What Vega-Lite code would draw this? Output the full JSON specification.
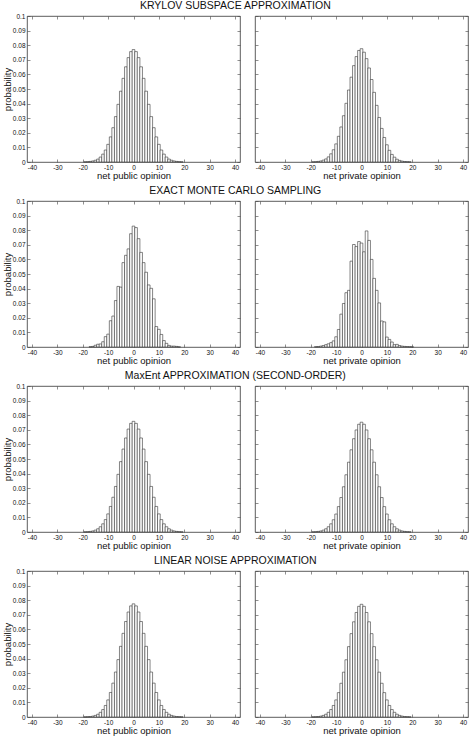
{
"$schema":"https://vega.github.io/schema/vega-lite/v6.json",
"background":"white",
"padding":{"left":1,"top":1,"right":0,"bottom":0},
"spacing":5,
"datasets":{
"kp":[{"x":-19,"p":0.0001},{"x":-18,"p":0.0002},{"x":-17,"p":0.0004},{"x":-16,"p":0.0007},{"x":-15,"p":0.0012},{"x":-14,"p":0.002},{"x":-13,"p":0.0034},{"x":-12,"p":0.0054},{"x":-11,"p":0.0082},{"x":-10,"p":0.0121},{"x":-9,"p":0.0172},{"x":-8,"p":0.0235},{"x":-7,"p":0.0311},{"x":-6,"p":0.0395},{"x":-5,"p":0.0485},{"x":-4,"p":0.0573},{"x":-3,"p":0.0652},{"x":-2,"p":0.0715},{"x":-1,"p":0.0756},{"x":0,"p":0.077},{"x":1,"p":0.0756},{"x":2,"p":0.0715},{"x":3,"p":0.0652},{"x":4,"p":0.0573},{"x":5,"p":0.0485},{"x":6,"p":0.0395},{"x":7,"p":0.0311},{"x":8,"p":0.0235},{"x":9,"p":0.0172},{"x":10,"p":0.0121},{"x":11,"p":0.0082},{"x":12,"p":0.0054},{"x":13,"p":0.0034},{"x":14,"p":0.002},{"x":15,"p":0.0012},{"x":16,"p":0.0007},{"x":17,"p":0.0004},{"x":18,"p":0.0002},{"x":19,"p":0.0001}],
"kr":[{"x":-19,"p":0.0001},{"x":-18,"p":0.0002},{"x":-17,"p":0.0004},{"x":-16,"p":0.0007},{"x":-15,"p":0.0013},{"x":-14,"p":0.0021},{"x":-13,"p":0.0035},{"x":-12,"p":0.0056},{"x":-11,"p":0.0084},{"x":-10,"p":0.0124},{"x":-9,"p":0.0176},{"x":-8,"p":0.024},{"x":-7,"p":0.0317},{"x":-6,"p":0.0402},{"x":-5,"p":0.0493},{"x":-4,"p":0.0581},{"x":-3,"p":0.066},{"x":-2,"p":0.0722},{"x":-1,"p":0.0764},{"x":0,"p":0.0776},{"x":1,"p":0.0752},{"x":2,"p":0.0708},{"x":3,"p":0.0644},{"x":4,"p":0.0565},{"x":5,"p":0.0477},{"x":6,"p":0.0388},{"x":7,"p":0.0305},{"x":8,"p":0.023},{"x":9,"p":0.0168},{"x":10,"p":0.0118},{"x":11,"p":0.008},{"x":12,"p":0.0052},{"x":13,"p":0.0033},{"x":14,"p":0.0019},{"x":15,"p":0.0011},{"x":16,"p":0.0006},{"x":17,"p":0.0003},{"x":18,"p":0.0002},{"x":19,"p":0.0001}],
"mp":[{"x":-17,"p":0.0002},{"x":-16,"p":0.0004},{"x":-15,"p":0.0012},{"x":-14,"p":0.0019},{"x":-13,"p":0.0021},{"x":-12,"p":0.0036},{"x":-11,"p":0.0071},{"x":-10,"p":0.0088},{"x":-9,"p":0.018},{"x":-8,"p":0.0212},{"x":-7,"p":0.0318},{"x":-6,"p":0.0415},{"x":-5,"p":0.041},{"x":-4,"p":0.0578},{"x":-3,"p":0.0628},{"x":-2,"p":0.0672},{"x":-1,"p":0.0776},{"x":0,"p":0.0828},{"x":1,"p":0.0818},{"x":2,"p":0.0742},{"x":3,"p":0.0648},{"x":4,"p":0.0578},{"x":5,"p":0.0512},{"x":6,"p":0.0425},{"x":7,"p":0.0402},{"x":8,"p":0.033},{"x":9,"p":0.014},{"x":10,"p":0.0121},{"x":11,"p":0.0086},{"x":12,"p":0.0044},{"x":13,"p":0.0025},{"x":14,"p":0.0011},{"x":15,"p":0.0006},{"x":16,"p":0.0006},{"x":17,"p":0.0004},{"x":18,"p":0.0001}],
"mr":[{"x":-18,"p":0.0002},{"x":-17,"p":0.0003},{"x":-16,"p":0.0006},{"x":-15,"p":0.001},{"x":-14,"p":0.0016},{"x":-13,"p":0.0022},{"x":-12,"p":0.003},{"x":-11,"p":0.0042},{"x":-10,"p":0.007},{"x":-9,"p":0.012},{"x":-8,"p":0.0225},{"x":-7,"p":0.0298},{"x":-6,"p":0.0372},{"x":-5,"p":0.0388},{"x":-4,"p":0.0588},{"x":-3,"p":0.0702},{"x":-2,"p":0.0688},{"x":-1,"p":0.0722},{"x":0,"p":0.0712},{"x":1,"p":0.0652},{"x":2,"p":0.0795},{"x":3,"p":0.073},{"x":4,"p":0.06},{"x":5,"p":0.047},{"x":6,"p":0.0388},{"x":7,"p":0.0302},{"x":8,"p":0.0178},{"x":9,"p":0.0172},{"x":10,"p":0.0068},{"x":11,"p":0.0052},{"x":12,"p":0.0034},{"x":13,"p":0.0016},{"x":14,"p":0.0018},{"x":15,"p":0.001},{"x":16,"p":0.0006},{"x":17,"p":0.0004},{"x":18,"p":0.0003},{"x":19,"p":0.0002},{"x":20,"p":0.0001}],
"ep":[{"x":-19,"p":0.0001},{"x":-18,"p":0.0002},{"x":-17,"p":0.0004},{"x":-16,"p":0.0007},{"x":-15,"p":0.0013},{"x":-14,"p":0.0022},{"x":-13,"p":0.0036},{"x":-12,"p":0.0056},{"x":-11,"p":0.0085},{"x":-10,"p":0.0124},{"x":-9,"p":0.0175},{"x":-8,"p":0.0238},{"x":-7,"p":0.0312},{"x":-6,"p":0.0395},{"x":-5,"p":0.0482},{"x":-4,"p":0.0568},{"x":-3,"p":0.0644},{"x":-2,"p":0.0705},{"x":-1,"p":0.0744},{"x":0,"p":0.0758},{"x":1,"p":0.0744},{"x":2,"p":0.0705},{"x":3,"p":0.0644},{"x":4,"p":0.0568},{"x":5,"p":0.0482},{"x":6,"p":0.0395},{"x":7,"p":0.0312},{"x":8,"p":0.0238},{"x":9,"p":0.0175},{"x":10,"p":0.0124},{"x":11,"p":0.0085},{"x":12,"p":0.0056},{"x":13,"p":0.0036},{"x":14,"p":0.0022},{"x":15,"p":0.0013},{"x":16,"p":0.0007},{"x":17,"p":0.0004},{"x":18,"p":0.0002},{"x":19,"p":0.0001}],
"er":[{"x":-19,"p":0.0001},{"x":-18,"p":0.0002},{"x":-17,"p":0.0004},{"x":-16,"p":0.0007},{"x":-15,"p":0.0013},{"x":-14,"p":0.0022},{"x":-13,"p":0.0036},{"x":-12,"p":0.0056},{"x":-11,"p":0.0084},{"x":-10,"p":0.0123},{"x":-9,"p":0.0174},{"x":-8,"p":0.0236},{"x":-7,"p":0.031},{"x":-6,"p":0.0392},{"x":-5,"p":0.0478},{"x":-4,"p":0.0563},{"x":-3,"p":0.0639},{"x":-2,"p":0.0699},{"x":-1,"p":0.0738},{"x":0,"p":0.0752},{"x":1,"p":0.0738},{"x":2,"p":0.0699},{"x":3,"p":0.0639},{"x":4,"p":0.0563},{"x":5,"p":0.0478},{"x":6,"p":0.0392},{"x":7,"p":0.031},{"x":8,"p":0.0236},{"x":9,"p":0.0174},{"x":10,"p":0.0123},{"x":11,"p":0.0084},{"x":12,"p":0.0056},{"x":13,"p":0.0036},{"x":14,"p":0.0022},{"x":15,"p":0.0013},{"x":16,"p":0.0007},{"x":17,"p":0.0004},{"x":18,"p":0.0002},{"x":19,"p":0.0001}],
"lp":[{"x":-19,"p":0.0001},{"x":-18,"p":0.0002},{"x":-17,"p":0.0003},{"x":-16,"p":0.0006},{"x":-15,"p":0.0011},{"x":-14,"p":0.0019},{"x":-13,"p":0.0032},{"x":-12,"p":0.0051},{"x":-11,"p":0.0079},{"x":-10,"p":0.0117},{"x":-9,"p":0.0168},{"x":-8,"p":0.0232},{"x":-7,"p":0.0308},{"x":-6,"p":0.0393},{"x":-5,"p":0.0484},{"x":-4,"p":0.0573},{"x":-3,"p":0.0654},{"x":-2,"p":0.0719},{"x":-1,"p":0.0761},{"x":0,"p":0.0775},{"x":1,"p":0.0761},{"x":2,"p":0.0719},{"x":3,"p":0.0654},{"x":4,"p":0.0573},{"x":5,"p":0.0484},{"x":6,"p":0.0393},{"x":7,"p":0.0308},{"x":8,"p":0.0232},{"x":9,"p":0.0168},{"x":10,"p":0.0117},{"x":11,"p":0.0079},{"x":12,"p":0.0051},{"x":13,"p":0.0032},{"x":14,"p":0.0019},{"x":15,"p":0.0011},{"x":16,"p":0.0006},{"x":17,"p":0.0003},{"x":18,"p":0.0002},{"x":19,"p":0.0001}],
"lr":[{"x":-19,"p":0.0001},{"x":-18,"p":0.0002},{"x":-17,"p":0.0003},{"x":-16,"p":0.0006},{"x":-15,"p":0.0011},{"x":-14,"p":0.0019},{"x":-13,"p":0.0032},{"x":-12,"p":0.0051},{"x":-11,"p":0.0079},{"x":-10,"p":0.0117},{"x":-9,"p":0.0167},{"x":-8,"p":0.0231},{"x":-7,"p":0.0307},{"x":-6,"p":0.0392},{"x":-5,"p":0.0482},{"x":-4,"p":0.0571},{"x":-3,"p":0.0652},{"x":-2,"p":0.0716},{"x":-1,"p":0.0758},{"x":0,"p":0.0772},{"x":1,"p":0.0758},{"x":2,"p":0.0716},{"x":3,"p":0.0652},{"x":4,"p":0.0571},{"x":5,"p":0.0482},{"x":6,"p":0.0392},{"x":7,"p":0.0307},{"x":8,"p":0.0231},{"x":9,"p":0.0167},{"x":10,"p":0.0117},{"x":11,"p":0.0079},{"x":12,"p":0.0051},{"x":13,"p":0.0032},{"x":14,"p":0.0019},{"x":15,"p":0.0011},{"x":16,"p":0.0006},{"x":17,"p":0.0003},{"x":18,"p":0.0002},{"x":19,"p":0.0001}]
},
"vconcat":[
{"title":"KRYLOV SUBSPACE APPROXIMATION","spacing":13,"hconcat":[
{"width":213,"height":146,"data":{"name":"kp"},"layer":[
{"mark":{"type":"bar","width":2.66,"fill":"#ffffff","stroke":"#333333","strokeWidth":0.6},"encoding":{"x":{"field":"x","type":"quantitative","scale":{"domain":[-40,40],"nice":false},"axis":{"orient":"bottom","values":[-40,-30,-20,-10,0,10,20,30,40],"labelExpr":"''+datum.value","title":"net public opinion"}},"y":{"field":"p","type":"quantitative","scale":{"domain":[0,0.1],"nice":false},"axis":{"orient":"left","values":[0,0.01,0.02,0.03,0.04,0.05,0.06,0.07,0.08,0.09,0.1],"format":".2~f","title":"probability"}}}},
{"mark":{"type":"bar","width":2.66,"opacity":0},"encoding":{"x":{"field":"x","type":"quantitative","axis":{"orient":"top","values":[-40,-30,-20,-10,0,10,20,30,40],"labels":false,"title":null}},"y":{"field":"p","type":"quantitative","axis":{"orient":"right","values":[0,0.01,0.02,0.03,0.04,0.05,0.06,0.07,0.08,0.09,0.1],"labels":false,"title":null}}}}
],"resolve":{"axis":{"x":"independent","y":"independent"}}},
{"width":213,"height":146,"data":{"name":"kr"},"layer":[
{"mark":{"type":"bar","width":2.66,"fill":"#ffffff","stroke":"#333333","strokeWidth":0.6},"encoding":{"x":{"field":"x","type":"quantitative","scale":{"domain":[-40,40],"nice":false},"axis":{"orient":"bottom","values":[-40,-30,-20,-10,0,10,20,30,40],"labelExpr":"''+datum.value","title":"net private opinion"}},"y":{"field":"p","type":"quantitative","scale":{"domain":[0,0.1],"nice":false},"axis":{"orient":"left","values":[0,0.01,0.02,0.03,0.04,0.05,0.06,0.07,0.08,0.09,0.1],"labels":false,"title":null}}}},
{"mark":{"type":"bar","width":2.66,"opacity":0},"encoding":{"x":{"field":"x","type":"quantitative","axis":{"orient":"top","values":[-40,-30,-20,-10,0,10,20,30,40],"labels":false,"title":null}},"y":{"field":"p","type":"quantitative","axis":{"orient":"right","values":[0,0.01,0.02,0.03,0.04,0.05,0.06,0.07,0.08,0.09,0.1],"labels":false,"title":null}}}}
],"resolve":{"axis":{"x":"independent","y":"independent"}}}
]},
{"title":"EXACT MONTE CARLO SAMPLING","spacing":13,"hconcat":[
{"width":213,"height":146,"data":{"name":"mp"},"layer":[
{"mark":{"type":"bar","width":2.66,"fill":"#ffffff","stroke":"#333333","strokeWidth":0.6},"encoding":{"x":{"field":"x","type":"quantitative","scale":{"domain":[-40,40],"nice":false},"axis":{"orient":"bottom","values":[-40,-30,-20,-10,0,10,20,30,40],"labelExpr":"''+datum.value","title":"net public opinion"}},"y":{"field":"p","type":"quantitative","scale":{"domain":[0,0.1],"nice":false},"axis":{"orient":"left","values":[0,0.01,0.02,0.03,0.04,0.05,0.06,0.07,0.08,0.09,0.1],"format":".2~f","title":"probability"}}}},
{"mark":{"type":"bar","width":2.66,"opacity":0},"encoding":{"x":{"field":"x","type":"quantitative","axis":{"orient":"top","values":[-40,-30,-20,-10,0,10,20,30,40],"labels":false,"title":null}},"y":{"field":"p","type":"quantitative","axis":{"orient":"right","values":[0,0.01,0.02,0.03,0.04,0.05,0.06,0.07,0.08,0.09,0.1],"labels":false,"title":null}}}}
],"resolve":{"axis":{"x":"independent","y":"independent"}}},
{"width":213,"height":146,"data":{"name":"mr"},"layer":[
{"mark":{"type":"bar","width":2.66,"fill":"#ffffff","stroke":"#333333","strokeWidth":0.6},"encoding":{"x":{"field":"x","type":"quantitative","scale":{"domain":[-40,40],"nice":false},"axis":{"orient":"bottom","values":[-40,-30,-20,-10,0,10,20,30,40],"labelExpr":"''+datum.value","title":"net private opinion"}},"y":{"field":"p","type":"quantitative","scale":{"domain":[0,0.1],"nice":false},"axis":{"orient":"left","values":[0,0.01,0.02,0.03,0.04,0.05,0.06,0.07,0.08,0.09,0.1],"labels":false,"title":null}}}},
{"mark":{"type":"bar","width":2.66,"opacity":0},"encoding":{"x":{"field":"x","type":"quantitative","axis":{"orient":"top","values":[-40,-30,-20,-10,0,10,20,30,40],"labels":false,"title":null}},"y":{"field":"p","type":"quantitative","axis":{"orient":"right","values":[0,0.01,0.02,0.03,0.04,0.05,0.06,0.07,0.08,0.09,0.1],"labels":false,"title":null}}}}
],"resolve":{"axis":{"x":"independent","y":"independent"}}}
]},
{"title":"MaxEnt APPROXIMATION (SECOND-ORDER)","spacing":13,"hconcat":[
{"width":213,"height":146,"data":{"name":"ep"},"layer":[
{"mark":{"type":"bar","width":2.66,"fill":"#ffffff","stroke":"#333333","strokeWidth":0.6},"encoding":{"x":{"field":"x","type":"quantitative","scale":{"domain":[-40,40],"nice":false},"axis":{"orient":"bottom","values":[-40,-30,-20,-10,0,10,20,30,40],"labelExpr":"''+datum.value","title":"net public opinion"}},"y":{"field":"p","type":"quantitative","scale":{"domain":[0,0.1],"nice":false},"axis":{"orient":"left","values":[0,0.01,0.02,0.03,0.04,0.05,0.06,0.07,0.08,0.09,0.1],"format":".2~f","title":"probability"}}}},
{"mark":{"type":"bar","width":2.66,"opacity":0},"encoding":{"x":{"field":"x","type":"quantitative","axis":{"orient":"top","values":[-40,-30,-20,-10,0,10,20,30,40],"labels":false,"title":null}},"y":{"field":"p","type":"quantitative","axis":{"orient":"right","values":[0,0.01,0.02,0.03,0.04,0.05,0.06,0.07,0.08,0.09,0.1],"labels":false,"title":null}}}}
],"resolve":{"axis":{"x":"independent","y":"independent"}}},
{"width":213,"height":146,"data":{"name":"er"},"layer":[
{"mark":{"type":"bar","width":2.66,"fill":"#ffffff","stroke":"#333333","strokeWidth":0.6},"encoding":{"x":{"field":"x","type":"quantitative","scale":{"domain":[-40,40],"nice":false},"axis":{"orient":"bottom","values":[-40,-30,-20,-10,0,10,20,30,40],"labelExpr":"''+datum.value","title":"net private opinion"}},"y":{"field":"p","type":"quantitative","scale":{"domain":[0,0.1],"nice":false},"axis":{"orient":"left","values":[0,0.01,0.02,0.03,0.04,0.05,0.06,0.07,0.08,0.09,0.1],"labels":false,"title":null}}}},
{"mark":{"type":"bar","width":2.66,"opacity":0},"encoding":{"x":{"field":"x","type":"quantitative","axis":{"orient":"top","values":[-40,-30,-20,-10,0,10,20,30,40],"labels":false,"title":null}},"y":{"field":"p","type":"quantitative","axis":{"orient":"right","values":[0,0.01,0.02,0.03,0.04,0.05,0.06,0.07,0.08,0.09,0.1],"labels":false,"title":null}}}}
],"resolve":{"axis":{"x":"independent","y":"independent"}}}
]},
{"title":"LINEAR NOISE APPROXIMATION","spacing":13,"hconcat":[
{"width":213,"height":146,"data":{"name":"lp"},"layer":[
{"mark":{"type":"bar","width":2.66,"fill":"#ffffff","stroke":"#333333","strokeWidth":0.6},"encoding":{"x":{"field":"x","type":"quantitative","scale":{"domain":[-40,40],"nice":false},"axis":{"orient":"bottom","values":[-40,-30,-20,-10,0,10,20,30,40],"labelExpr":"''+datum.value","title":"net public opinion"}},"y":{"field":"p","type":"quantitative","scale":{"domain":[0,0.1],"nice":false},"axis":{"orient":"left","values":[0,0.01,0.02,0.03,0.04,0.05,0.06,0.07,0.08,0.09,0.1],"format":".2~f","title":"probability"}}}},
{"mark":{"type":"bar","width":2.66,"opacity":0},"encoding":{"x":{"field":"x","type":"quantitative","axis":{"orient":"top","values":[-40,-30,-20,-10,0,10,20,30,40],"labels":false,"title":null}},"y":{"field":"p","type":"quantitative","axis":{"orient":"right","values":[0,0.01,0.02,0.03,0.04,0.05,0.06,0.07,0.08,0.09,0.1],"labels":false,"title":null}}}}
],"resolve":{"axis":{"x":"independent","y":"independent"}}},
{"width":213,"height":146,"data":{"name":"lr"},"layer":[
{"mark":{"type":"bar","width":2.66,"fill":"#ffffff","stroke":"#333333","strokeWidth":0.6},"encoding":{"x":{"field":"x","type":"quantitative","scale":{"domain":[-40,40],"nice":false},"axis":{"orient":"bottom","values":[-40,-30,-20,-10,0,10,20,30,40],"labelExpr":"''+datum.value","title":"net private opinion"}},"y":{"field":"p","type":"quantitative","scale":{"domain":[0,0.1],"nice":false},"axis":{"orient":"left","values":[0,0.01,0.02,0.03,0.04,0.05,0.06,0.07,0.08,0.09,0.1],"labels":false,"title":null}}}},
{"mark":{"type":"bar","width":2.66,"opacity":0},"encoding":{"x":{"field":"x","type":"quantitative","axis":{"orient":"top","values":[-40,-30,-20,-10,0,10,20,30,40],"labels":false,"title":null}},"y":{"field":"p","type":"quantitative","axis":{"orient":"right","values":[0,0.01,0.02,0.03,0.04,0.05,0.06,0.07,0.08,0.09,0.1],"labels":false,"title":null}}}}
],"resolve":{"axis":{"x":"independent","y":"independent"}}}
]}
],
"config":{
"view":{"stroke":"#333333","strokeWidth":0.8},
"font":"Liberation Sans",
"axis":{"domain":false,"grid":false,"tickSize":-3,"tickColor":"#444444","tickWidth":0.6,"labelFontSize":6.5,"labelColor":"#111111","labelFlush":false,"labelOverlap":false,"titleFontSize":9.5,"titleFontWeight":"normal","titleColor":"#111111","titlePadding":0,"labelFont":"Liberation Sans","titleFont":"Liberation Sans"},
"axisX":{"labelPadding":5},
"axisY":{"labelPadding":5},
"title":{"fontSize":10.5,"fontWeight":"normal","font":"Liberation Sans","color":"#111111","anchor":"middle","offset":1}
}
}
